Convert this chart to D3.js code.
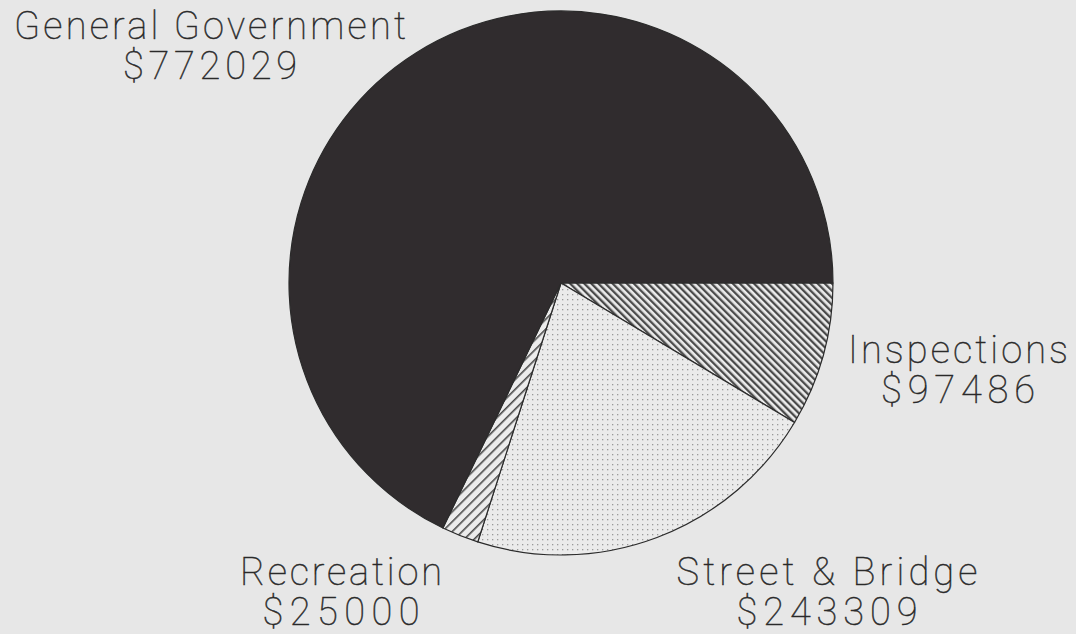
<!DOCTYPE html>
<html>
<head>
<meta charset="utf-8">
<script src="https://cdn.jsdelivr.net/npm/d3@7"></script>
<style>
  html, body { margin: 0; padding: 0; background: #e7e7e7; }
  svg { display: block; }
  .lbl { font-family: "Roboto", "Lato", "DejaVu Sans", sans-serif; font-weight: 100; fill: #2a2a2a; stroke: #2a2a2a; stroke-width: 0.45; font-variant-ligatures: none; }
</style>
</head>
<body>
<svg id="chart" width="1076" height="634"></svg>
<script>
// Budget categories, in drawing order starting at 3 o'clock, clockwise
const categories = ["Inspections", "Street & Bridge", "Recreation", "General Government"];
const amounts = [97486, 243309, 25000, 772029];
const amountLabels = ["$97486", "$243309", "$25000", "$772029"];
const fills = ["url(#hatchBack)", "url(#stipple)", "url(#hatchFwd)", "#302c2e"];

// Label anchors (centre x, first-line baseline) and fitted text widths
const labelLayout = {
  "Inspections":        { x: 958, y: 363, w1: 220, w2: 154 },
  "Street & Bridge":    { x: 827, y: 585, w1: 301, w2: 181 },
  "Recreation":         { x: 341, y: 585, w1: 202, w2: 157 },
  "General Government": { x: 210, y: 39,  w1: 392, w2: 174 }
};
const fontSize = 38, lineGap = 40;

const svg = d3.select("#chart");
const W = 1076, H = 634;
const cx = 561, cy = 283, r = 272;

svg.append("rect").attr("width", W).attr("height", H).attr("fill", "#e7e7e7");

const defs = svg.append("defs");

// Dense backslash hatching (top-left to bottom-right)
const hb = defs.append("pattern")
  .attr("id", "hatchBack").attr("patternUnits", "userSpaceOnUse")
  .attr("width", 5).attr("height", 5)
  .attr("patternTransform", "rotate(-45)");
hb.append("rect").attr("width", 5).attr("height", 5).attr("fill", "#ececec");
hb.append("rect").attr("x", 0).attr("width", 2.3).attr("height", 5).attr("fill", "#4a4a4a");

// Wider forward-slash hatching (bottom-left to top-right)
const hf = defs.append("pattern")
  .attr("id", "hatchFwd").attr("patternUnits", "userSpaceOnUse")
  .attr("width", 7).attr("height", 7)
  .attr("patternTransform", "rotate(45)");
hf.append("rect").attr("width", 7).attr("height", 7).attr("fill", "#ececec");
hf.append("rect").attr("x", 0).attr("width", 1.6).attr("height", 7).attr("fill", "#4a4a4a");

// Fine dot stipple
const st = defs.append("pattern")
  .attr("id", "stipple").attr("patternUnits", "userSpaceOnUse")
  .attr("width", 5).attr("height", 5);
st.append("rect").attr("width", 5).attr("height", 5).attr("fill", "#ebebeb");
st.append("rect").attr("x", 1).attr("y", 1).attr("width", 1.3).attr("height", 1.3).attr("fill", "#9a9a9a");

const data = categories.map((c, i) => ({ name: c, value: amounts[i], text: amountLabels[i], fill: fills[i] }));

const pie = d3.pie()
  .sort(null)
  .value(d => d.value)
  .startAngle(Math.PI / 2)
  .endAngle(Math.PI / 2 + 2 * Math.PI);

const arc = d3.arc().innerRadius(0).outerRadius(r);

const g = svg.append("g").attr("transform", `translate(${cx},${cy})`);

g.selectAll("path.slice")
  .data(pie(data))
  .join("path")
  .attr("class", "slice")
  .attr("d", arc)
  .attr("fill", d => d.data.fill)
  .attr("stroke", "#2b2b2b")
  .attr("stroke-width", 1.2)
  .attr("stroke-linejoin", "round");

// Two-line labels: category name and dollar amount
const labels = svg.selectAll("g.label")
  .data(data)
  .join("g")
  .attr("class", "label");

labels.append("text")
  .attr("class", "lbl")
  .attr("x", d => labelLayout[d.name].x)
  .attr("y", d => labelLayout[d.name].y)
  .attr("text-anchor", "middle")
  .attr("font-size", fontSize)
  .attr("textLength", d => labelLayout[d.name].w1)
  .attr("lengthAdjust", "spacing")
  .text(d => d.name);

labels.append("text")
  .attr("class", "lbl")
  .attr("x", d => labelLayout[d.name].x)
  .attr("y", d => labelLayout[d.name].y + lineGap)
  .attr("text-anchor", "middle")
  .attr("font-size", fontSize)
  .attr("textLength", d => labelLayout[d.name].w2)
  .attr("lengthAdjust", "spacing")
  .text(d => d.text);
</script>
</body>
</html>
